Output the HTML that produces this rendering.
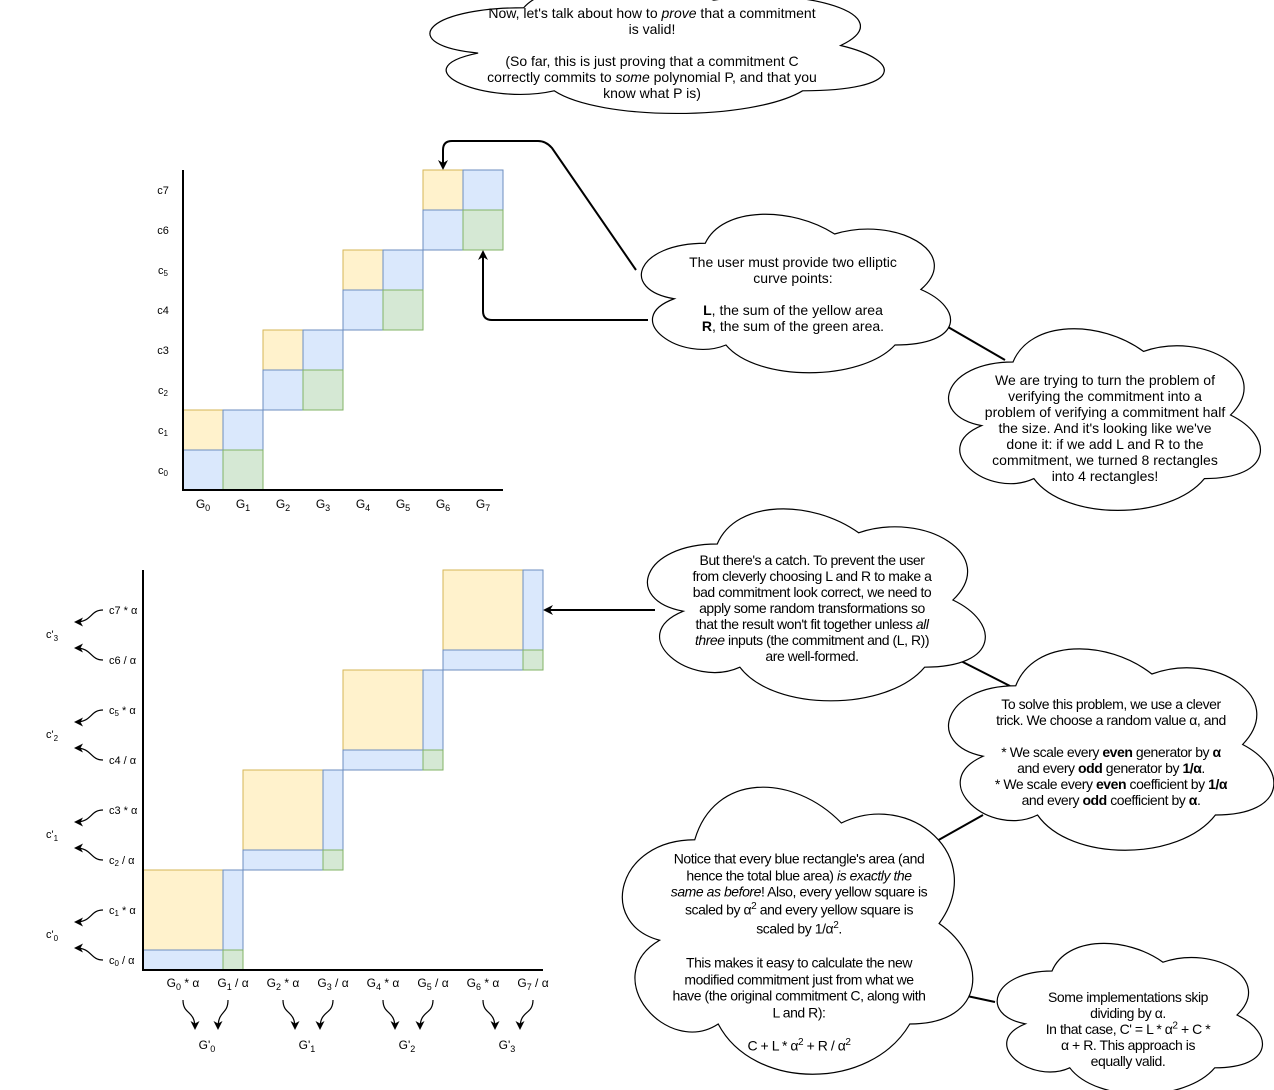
<!DOCTYPE html>
<html><head><meta charset="utf-8">
<style>
html,body{margin:0;padding:0;background:#fff;}
body{width:1274px;height:1090px;position:relative;overflow:hidden;font-family:"Liberation Sans",sans-serif;}
.t{position:absolute;transform:translate(-50%,-50%);text-align:center;white-space:nowrap;font-size:14px;line-height:16px;color:#000;}
.n{letter-spacing:-0.45px;}
sup{font-size:10px;line-height:0;}
</style></head><body>
<svg width="1274" height="1090" style="position:absolute;left:0;top:0" xmlns="http://www.w3.org/2000/svg">
<defs>
<path id="cl" d="M25,25 C5,25 0,50 16,55 C0,66 18,90 31,80 C40,100 70,100 80,80 C100,80 100,60 87.5,50 C100,30 80,10 62.5,20 C50,5 30,5 25,25 Z"/>
<marker id="ah" markerWidth="10" markerHeight="10" refX="8" refY="5" orient="auto" markerUnits="userSpaceOnUse"><path d="M0,0 L10,5 L0,10 L3,5 Z" fill="#000"/></marker>
<marker id="as" markerWidth="9" markerHeight="9" refX="7" refY="4.5" orient="auto" markerUnits="userSpaceOnUse"><path d="M0,0 L9,4.5 L0,9 L2.5,4.5 Z" fill="#000"/></marker>
</defs>
<!-- connectors -->
<g stroke="#000" stroke-width="2" fill="none">
<path d="M636,270 L552,148 Q546,141 538,141 L452,141 Q443,141 443,150 L443,168" marker-end="url(#ah)"/>
<path d="M648,320 L492,320 Q483,320 483,311 L483,252" marker-end="url(#ah)"/>
<path d="M948,327 L1005,360"/>
<path d="M655,610 L545,610" marker-end="url(#ah)"/>
<path d="M953,657 L1010,686"/>
<path d="M983,815 L935,842"/>
<path d="M967,996 L995,1002"/>
</g>
<!-- clouds -->
<g fill="#fff" stroke="#000" stroke-width="1.2">
<use href="#cl" transform="translate(397,-30) scale(5.07,1.51)" vector-effect="non-scaling-stroke" style="stroke-width:0.2"/>
</g>
<g fill="#fff" stroke="#000">
<path d="M25,25 C5,25 0,50 16,55 C0,66 18,90 31,80 C40,100 70,100 80,80 C100,80 100,60 87.5,50 C100,30 80,10 62.5,20 C50,5 30,5 25,25 Z" transform="translate(397,-30) scale(5.07,1.51)" vector-effect="non-scaling-stroke" stroke-width="1.2"/>
<path d="M25,25 C5,25 0,50 16,55 C0,66 18,90 31,80 C40,100 70,100 80,80 C100,80 100,60 87.5,50 C100,30 80,10 62.5,20 C50,5 30,5 25,25 Z" transform="translate(619,197) scale(3.45,1.85)" vector-effect="non-scaling-stroke" stroke-width="1.2"/>
<path d="M25,25 C5,25 0,50 16,55 C0,66 18,90 31,80 C40,100 70,100 80,80 C100,80 100,60 87.5,50 C100,30 80,10 62.5,20 C50,5 30,5 25,25 Z" transform="translate(926,309) scale(3.48,2.12)" vector-effect="non-scaling-stroke" stroke-width="1.2"/>
<path d="M25,25 C5,25 0,50 16,55 C0,66 18,90 31,80 C40,100 70,100 80,80 C100,80 100,60 87.5,50 C100,30 80,10 62.5,20 C50,5 30,5 25,25 Z" transform="translate(623,488) scale(3.77,2.24)" vector-effect="non-scaling-stroke" stroke-width="1.2"/>
<path d="M25,25 C5,25 0,50 16,55 C0,66 18,90 31,80 C40,100 70,100 80,80 C100,80 100,60 87.5,50 C100,30 80,10 62.5,20 C50,5 30,5 25,25 Z" transform="translate(925,627) scale(3.63,2.35)" vector-effect="non-scaling-stroke" stroke-width="1.2"/>
<path d="M25,25 C5,25 0,50 16,55 C0,66 18,90 31,80 C40,100 70,100 80,80 C100,80 100,60 87.5,50 C100,30 80,10 62.5,20 C50,5 30,5 25,25 Z" transform="translate(597,756) scale(3.91,3.35)" vector-effect="non-scaling-stroke" stroke-width="1.2"/>
<path d="M25,25 C5,25 0,50 16,55 C0,66 18,90 31,80 C40,100 70,100 80,80 C100,80 100,60 87.5,50 C100,30 80,10 62.5,20 C50,5 30,5 25,25 Z" transform="translate(978,927) scale(2.96,1.76)" vector-effect="non-scaling-stroke" stroke-width="1.2"/>
</g>
<!-- top chart -->
<g stroke-width="1">
<g fill="#fff2cc" stroke="#d6b656">
<rect x="183" y="410" width="40" height="40"/><rect x="263" y="330" width="40" height="40"/><rect x="343" y="250" width="40" height="40"/><rect x="423" y="170" width="40" height="40"/>
</g>
<g fill="#dae8fc" stroke="#6c8ebf">
<rect x="223" y="410" width="40" height="40"/><rect x="183" y="450" width="40" height="40"/>
<rect x="303" y="330" width="40" height="40"/><rect x="263" y="370" width="40" height="40"/>
<rect x="383" y="250" width="40" height="40"/><rect x="343" y="290" width="40" height="40"/>
<rect x="463" y="170" width="40" height="40"/><rect x="423" y="210" width="40" height="40"/>
</g>
<g fill="#d5e8d4" stroke="#82b366">
<rect x="223" y="450" width="40" height="40"/><rect x="303" y="370" width="40" height="40"/><rect x="383" y="290" width="40" height="40"/><rect x="463" y="210" width="40" height="40"/>
</g>
</g>
<path d="M183,170 L183,490 L503,490" stroke="#000" stroke-width="2" fill="none"/>
<!-- bottom chart -->
<g>
<g fill="#fff2cc" stroke="#d6b656"><rect x="143" y="870" width="80" height="80"/><rect x="243" y="770" width="80" height="80"/><rect x="343" y="670" width="80" height="80"/><rect x="443" y="570" width="80" height="80"/></g>
<g fill="#dae8fc" stroke="#6c8ebf">
<rect x="223" y="870" width="20" height="80"/><rect x="143" y="950" width="80" height="20"/>
<rect x="323" y="770" width="20" height="80"/><rect x="243" y="850" width="80" height="20"/>
<rect x="423" y="670" width="20" height="80"/><rect x="343" y="750" width="80" height="20"/>
<rect x="523" y="570" width="20" height="80"/><rect x="443" y="650" width="80" height="20"/>
</g>
<g fill="#d5e8d4" stroke="#82b366"><rect x="223" y="950" width="20" height="20"/><rect x="323" y="850" width="20" height="20"/><rect x="423" y="750" width="20" height="20"/><rect x="523" y="650" width="20" height="20"/></g>
</g>
<path d="M143,570 L143,970 L543,970" stroke="#000" stroke-width="2" fill="none"/>
<!-- small curvy arrows left -->
<g stroke="#000" stroke-width="1.2" fill="none">
<path d="M103,610 C90,610 92,622 76,622" marker-end="url(#as)"/><path d="M103,660 C90,660 92,648 76,648" marker-end="url(#as)"/>
<path d="M103,710 C90,710 92,722 76,722" marker-end="url(#as)"/><path d="M103,760 C90,760 92,748 76,748" marker-end="url(#as)"/>
<path d="M103,810 C90,810 92,822 76,822" marker-end="url(#as)"/><path d="M103,860 C90,860 92,848 76,848" marker-end="url(#as)"/>
<path d="M103,910 C90,910 92,922 76,922" marker-end="url(#as)"/><path d="M103,960 C90,960 92,948 76,948" marker-end="url(#as)"/>
<!-- bottom G arrows -->
<path d="M183,1000 C183,1015 195,1010 195,1028" marker-end="url(#as)"/><path d="M228,1000 C228,1015 218,1010 218,1028" marker-end="url(#as)"/>
<path d="M283,1000 C283,1015 295,1010 295,1028" marker-end="url(#as)"/><path d="M333,1000 C333,1015 320,1010 320,1028" marker-end="url(#as)"/>
<path d="M383,1000 C383,1015 395,1010 395,1028" marker-end="url(#as)"/><path d="M433,1000 C433,1015 420,1010 420,1028" marker-end="url(#as)"/>
<path d="M483,1000 C483,1015 495,1010 495,1028" marker-end="url(#as)"/><path d="M533,1000 C533,1015 520,1010 520,1028" marker-end="url(#as)"/>
</g>
<!-- top chart labels -->
<g font-family="Liberation Sans, sans-serif" font-size="11" fill="#000" text-anchor="middle">
<text x="163" y="194">c7</text><text x="163" y="234">c6</text><text x="163" y="274">c<tspan font-size="8" dy="2">5</tspan></text><text x="163" y="314">c4</text>
<text x="163" y="354">c3</text><text x="163" y="394">c<tspan font-size="8" dy="2">2</tspan></text><text x="163" y="434">c<tspan font-size="8" dy="2">1</tspan></text><text x="163" y="474">c<tspan font-size="8" dy="2">0</tspan></text>
</g>
<g font-family="Liberation Sans, sans-serif" font-size="12" fill="#000" text-anchor="middle">
<text x="203" y="508">G<tspan font-size="9" dy="3">0</tspan></text><text x="243" y="508">G<tspan font-size="9" dy="3">1</tspan></text>
<text x="283" y="508">G<tspan font-size="9" dy="3">2</tspan></text><text x="323" y="508">G<tspan font-size="9" dy="3">3</tspan></text>
<text x="363" y="508">G<tspan font-size="9" dy="3">4</tspan></text><text x="403" y="508">G<tspan font-size="9" dy="3">5</tspan></text>
<text x="443" y="508">G<tspan font-size="9" dy="3">6</tspan></text><text x="483" y="508">G<tspan font-size="9" dy="3">7</tspan></text>
</g>
<g font-family="Liberation Sans, sans-serif" font-size="11" fill="#000" text-anchor="start">
<text x="109" y="614">c7 * α</text><text x="109" y="664">c6 / α</text>
<text x="109" y="714">c<tspan font-size="8" dy="2">5</tspan><tspan dy="-2"> * α</tspan></text><text x="109" y="764">c4 / α</text>
<text x="109" y="814">c3 * α</text><text x="109" y="864">c<tspan font-size="8" dy="2">2</tspan><tspan dy="-2"> / α</tspan></text>
<text x="109" y="914">c<tspan font-size="8" dy="2">1</tspan><tspan dy="-2"> * α</tspan></text><text x="109" y="964">c<tspan font-size="8" dy="2">0</tspan><tspan dy="-2"> / α</tspan></text>
</g>
<g font-family="Liberation Sans, sans-serif" font-size="11" fill="#000" text-anchor="start">
<text x="46" y="638">c'<tspan font-size="8" dy="3">3</tspan></text><text x="46" y="738">c'<tspan font-size="8" dy="3">2</tspan></text>
<text x="46" y="838">c'<tspan font-size="8" dy="3">1</tspan></text><text x="46" y="938">c'<tspan font-size="8" dy="3">0</tspan></text>
</g>
<g font-family="Liberation Sans, sans-serif" font-size="12" fill="#000" text-anchor="middle">
<text x="183" y="987">G<tspan font-size="9" dy="3">0</tspan><tspan dy="-3"> * α</tspan></text><text x="233" y="987">G<tspan font-size="9" dy="3">1</tspan><tspan dy="-3"> / α</tspan></text>
<text x="283" y="987">G<tspan font-size="9" dy="3">2</tspan><tspan dy="-3"> * α</tspan></text><text x="333" y="987">G<tspan font-size="9" dy="3">3</tspan><tspan dy="-3"> / α</tspan></text>
<text x="383" y="987">G<tspan font-size="9" dy="3">4</tspan><tspan dy="-3"> * α</tspan></text><text x="433" y="987">G<tspan font-size="9" dy="3">5</tspan><tspan dy="-3"> / α</tspan></text>
<text x="483" y="987">G<tspan font-size="9" dy="3">6</tspan><tspan dy="-3"> * α</tspan></text><text x="533" y="987">G<tspan font-size="9" dy="3">7</tspan><tspan dy="-3"> / α</tspan></text>
<text x="207" y="1049">G'<tspan font-size="9" dy="3">0</tspan></text><text x="307" y="1049">G'<tspan font-size="9" dy="3">1</tspan></text>
<text x="407" y="1049">G'<tspan font-size="9" dy="3">2</tspan></text><text x="507" y="1049">G'<tspan font-size="9" dy="3">3</tspan></text>
</g>
</svg>
<div class="t" style="left:652px;top:53px;">Now, let's talk about how to <i>prove</i> that a commitment<br>is valid!<br><br>(So far, this is just proving that a commitment C<br>correctly commits to <i>some</i> polynomial P, and that you<br>know what P is)</div>
<div class="t" style="left:793px;top:294px;">The user must provide two elliptic<br>curve points:<br><br><b>L</b>, the sum of the yellow area<br><b>R</b>, the sum of the green area.</div>
<div class="t" style="left:1105px;top:428px;">We are trying to turn the problem of<br>verifying the commitment into a<br>problem of verifying a commitment half<br>the size. And it's looking like we've<br>done it: if we add L and R to the<br>commitment, we turned 8 rectangles<br>into 4 rectangles!</div>
<div class="t n" style="left:812px;top:608px;">But there's a catch. To prevent the user<br>from cleverly choosing L and R to make a<br>bad commitment look correct, we need to<br>apply some random transformations so<br>that the result won't fit together unless <i>all</i><br><i>three</i> inputs (the commitment and (L, R))<br>are well-formed.</div>
<div class="t n" style="left:1111px;top:752px;">To solve this problem, we use a clever<br>trick. We choose a random value α, and<br><br>* We scale every <b>even</b> generator by <b>α</b><br>and every <b>odd</b> generator by <b>1/α</b>.<br>* We scale every <b>even</b> coefficient by <b>1/α</b><br>and every <b>odd</b> coefficient by <b>α</b>.</div>
<div class="t n" style="left:799px;top:952px;line-height:16.5px;">Notice that every blue rectangle's area (and<br>hence the total blue area) <i>is exactly the<br>same as before</i>! Also, every yellow square is<br><span style="line-height:19px">scaled by α<sup>2</sup> and every yellow square is</span><br><span style="line-height:19px">scaled by 1/α<sup>2</sup>.</span><br><br>This makes it easy to calculate the new<br>modified commitment just from what we<br>have (the original commitment C, along with<br>L and R):<br><br>C + L * α<sup>2</sup> + R / α<sup>2</sup></div>
<div class="t n" style="left:1128px;top:1029px;">Some implementations skip<br>dividing by α.<br>In that case, C' = L * α<sup>2</sup> + C *<br>α + R. This approach is<br>equally valid.</div>
</body></html>
